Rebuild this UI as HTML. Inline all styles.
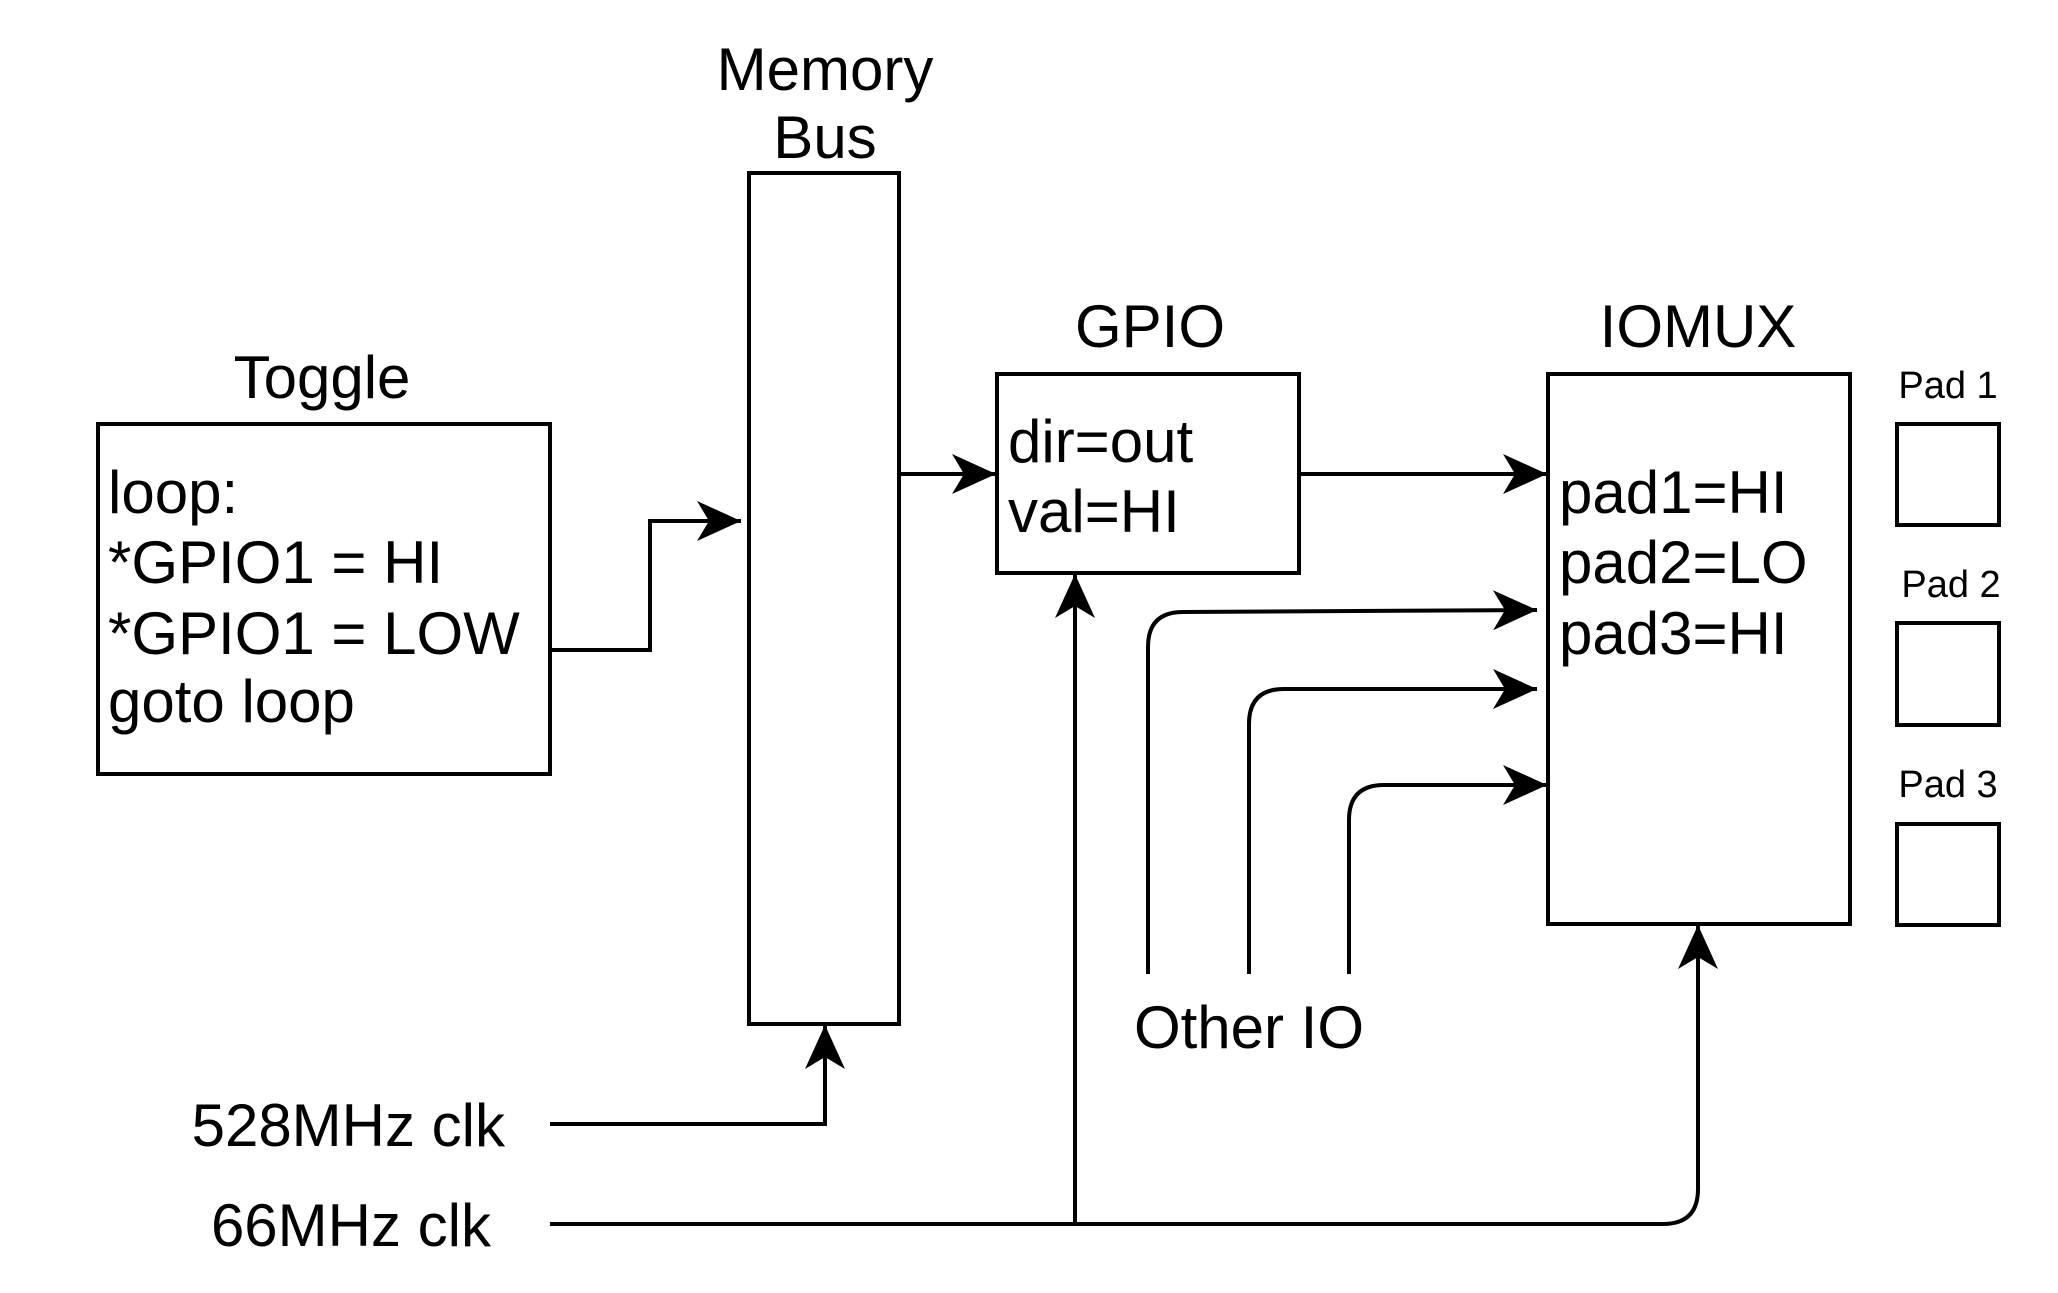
<!DOCTYPE html>
<html><head><meta charset="utf-8"><style>html,body{margin:0;padding:0;background:#fff}</style></head>
<body>
<svg width="2058" height="1288" viewBox="0 0 2058 1288" xmlns="http://www.w3.org/2000/svg" font-family="Liberation Sans, Arial, sans-serif" fill="none" stroke="#000" stroke-width="4">
<defs>
<marker id="a" markerWidth="46" markerHeight="40" refX="44" refY="20" orient="auto" markerUnits="userSpaceOnUse">
<path d="M0,0 L44,20 L0,40 L12,20 Z" fill="#000" stroke="none"/>
</marker>
</defs>
<!-- boxes -->
<rect x="98" y="424" width="452" height="350"/>
<rect x="749" y="173" width="150" height="851"/>
<rect x="997" y="374" width="302" height="199"/>
<rect x="1548" y="374" width="302" height="550"/>
<rect x="1897" y="424" width="102" height="101"/>
<rect x="1897" y="623" width="102" height="102"/>
<rect x="1897" y="824" width="102" height="101"/>
<!-- connectors -->
<path d="M550,650 H650 V521 H741" marker-end="url(#a)"/>
<path d="M899,474 H996" marker-end="url(#a)"/>
<path d="M1299,474 H1547" marker-end="url(#a)"/>
<path d="M550,1124 H825 V1025" marker-end="url(#a)"/>
<path d="M550,1224 H1663 Q1698,1224 1698,1189 V925" marker-end="url(#a)"/>
<path d="M1075,1224 V574" marker-end="url(#a)"/>
<path d="M1148,974 V647 Q1148,612 1183,612 L1537,610" marker-end="url(#a)"/>
<path d="M1249,974 V724 Q1249,689 1284,689 H1537" marker-end="url(#a)"/>
<path d="M1349,974 V820 Q1349,785 1384,785 H1547" marker-end="url(#a)"/>
<!-- text -->
<g fill="#000" stroke="none" font-size="60">
<text x="322" y="398" text-anchor="middle">Toggle</text>
<text x="108" y="513">loop:</text>
<text x="108" y="583">*GPIO1 = HI</text>
<text x="108" y="654">*GPIO1 = LOW</text>
<text x="108" y="722">goto loop</text>
<text x="825" y="90" text-anchor="middle">Memory</text>
<text x="825" y="158" text-anchor="middle">Bus</text>
<text x="1150" y="347" text-anchor="middle">GPIO</text>
<text x="1008" y="462">dir=out</text>
<text x="1008" y="532">val=HI</text>
<text x="1698" y="347" text-anchor="middle">IOMUX</text>
<text x="1559" y="513">pad1=HI</text>
<text x="1559" y="583">pad2=LO</text>
<text x="1559" y="654">pad3=HI</text>
<text x="1249" y="1048" text-anchor="middle">Other IO</text>
<text x="505" y="1146" text-anchor="end">528MHz clk</text>
<text x="491" y="1246" text-anchor="end">66MHz clk</text>
<g font-size="38" text-anchor="middle">
<text x="1948" y="398">Pad 1</text>
<text x="1951" y="597">Pad 2</text>
<text x="1948" y="797">Pad 3</text>
</g>
</g>
</svg>
</body></html>
